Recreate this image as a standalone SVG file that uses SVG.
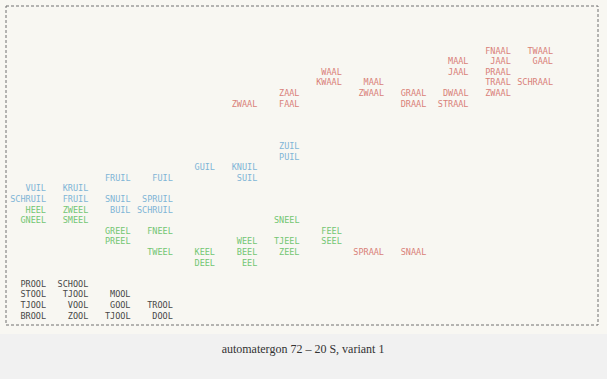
<svg xmlns="http://www.w3.org/2000/svg" width="607" height="379" viewBox="0 0 607 379">
<style>
text.w{font-family:"DejaVu Sans Mono","Liberation Mono",monospace;font-size:8.5px;text-anchor:end}
.r text{fill:#d98179}
.b text{fill:#7fb5d6}
.g text{fill:#73c673}
.k text{fill:#484848}
.frame{fill:none;stroke:#707070;stroke-width:1;stroke-dasharray:3 2}
.cap{font-family:"Liberation Serif","DejaVu Serif",serif;font-size:12px;fill:#333;text-anchor:middle}
</style>
<rect width="607" height="379" fill="#f1f1f1"/>
<rect width="607" height="334" fill="#f8f7f2"/>
<rect class="frame" x="6" y="6" width="592" height="319"/>
<g id="red" class="r">
<text class="w" x="510.8" y="53.5">FNAAL</text><text class="w" x="553" y="53.5">TWAAL</text>
<text class="w" x="468.5" y="64.1">MAAL</text><text class="w" x="510.8" y="64.1">JAAL</text><text class="w" x="553" y="64.1">GAAL</text>
<text class="w" x="341.8" y="74.7">WAAL</text><text class="w" x="468.5" y="74.7">JAAL</text><text class="w" x="510.8" y="74.7">PRAAL</text>
<text class="w" x="341.8" y="85.3">KWAAL</text><text class="w" x="384" y="85.3">MAAL</text><text class="w" x="510.8" y="85.3">TRAAL</text><text class="w" x="553" y="85.3">SCHRAAL</text>
<text class="w" x="299.5" y="95.9">ZAAL</text><text class="w" x="384" y="95.9">ZWAAL</text><text class="w" x="426.3" y="95.9">GRAAL</text><text class="w" x="468.5" y="95.9">DWAAL</text><text class="w" x="510.8" y="95.9">ZWAAL</text>
<text class="w" x="257.3" y="106.5">ZWAAL</text><text class="w" x="299.5" y="106.5">FAAL</text><text class="w" x="426.3" y="106.5">DRAAL</text><text class="w" x="468.5" y="106.5">STRAAL</text>
<text class="w" x="384" y="254.9">SPRAAL</text><text class="w" x="426.3" y="254.9">SNAAL</text>
</g>
<g id="blue" class="b">
<text class="w" x="299.5" y="148.9">ZUIL</text>
<text class="w" x="299.5" y="159.5">PUIL</text>
<text class="w" x="215" y="170.1">GUIL</text><text class="w" x="257.3" y="170.1">KNUIL</text>
<text class="w" x="130.5" y="180.7">FRUIL</text><text class="w" x="172.8" y="180.7">FUIL</text><text class="w" x="257.3" y="180.7">SUIL</text>
<text class="w" x="46" y="191.3">VUIL</text><text class="w" x="88.3" y="191.3">KRUIL</text>
<text class="w" x="46" y="201.9">SCHRUIL</text><text class="w" x="88.3" y="201.9">FRUIL</text><text class="w" x="130.5" y="201.9">SNUIL</text><text class="w" x="172.8" y="201.9">SPRUIL</text>
<text class="w" x="130.5" y="212.5">BUIL</text><text class="w" x="172.8" y="212.5">SCHRUIL</text>
</g>
<g id="green" class="g">
<text class="w" x="46" y="212.5">HEEL</text><text class="w" x="88.3" y="212.5">ZWEEL</text>
<text class="w" x="46" y="223.1">GNEEL</text><text class="w" x="88.3" y="223.1">SMEEL</text><text class="w" x="299.5" y="223.1">SNEEL</text>
<text class="w" x="130.5" y="233.7">GREEL</text><text class="w" x="172.8" y="233.7">FNEEL</text><text class="w" x="341.8" y="233.7">FEEL</text>
<text class="w" x="130.5" y="244.3">PREEL</text><text class="w" x="257.3" y="244.3">WEEL</text><text class="w" x="299.5" y="244.3">TJEEL</text><text class="w" x="341.8" y="244.3">SEEL</text>
<text class="w" x="172.8" y="254.9">TWEEL</text><text class="w" x="215" y="254.9">KEEL</text><text class="w" x="257.3" y="254.9">BEEL</text><text class="w" x="299.5" y="254.9">ZEEL</text>
<text class="w" x="215" y="265.5">DEEL</text><text class="w" x="257.3" y="265.5">EEL</text>
</g>
<g id="black" class="k">
<text class="w" x="46" y="286.7">PROOL</text><text class="w" x="88.3" y="286.7">SCHOOL</text>
<text class="w" x="46" y="297.3">STOOL</text><text class="w" x="88.3" y="297.3">TJOOL</text><text class="w" x="130.5" y="297.3">MOOL</text>
<text class="w" x="46" y="307.9">TJOOL</text><text class="w" x="88.3" y="307.9">VOOL</text><text class="w" x="130.5" y="307.9">GOOL</text><text class="w" x="172.8" y="307.9">TROOL</text>
<text class="w" x="46" y="318.5">BROOL</text><text class="w" x="88.3" y="318.5">ZOOL</text><text class="w" x="130.5" y="318.5">TJOOL</text><text class="w" x="172.8" y="318.5">DOOL</text>
</g>
<text id="caption" class="cap" x="303" y="353">automatergon 72 – 20 S, variant 1</text>
</svg>
